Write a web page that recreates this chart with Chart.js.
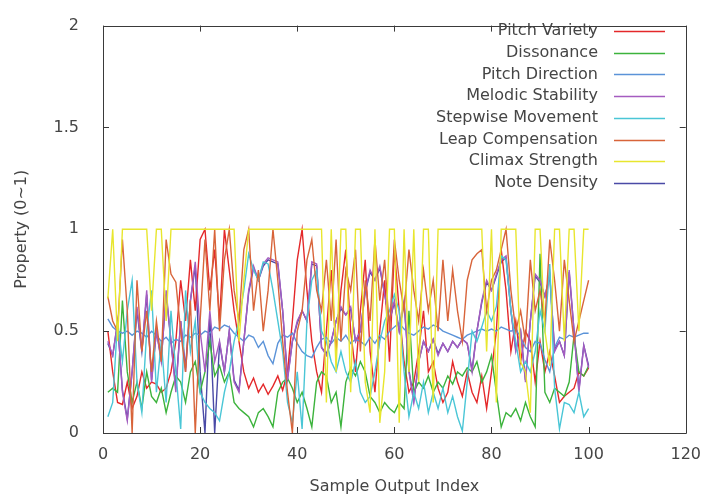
<!DOCTYPE html>
<html>
<head>
<meta charset="utf-8">
<script src="https://cdn.jsdelivr.net/npm/chart.js@4/dist/chart.umd.min.js"></script>
<style>
html,body{margin:0;padding:0;background:#fff;}
#c{display:block;}
</style>
</head>
<body>
<canvas id="c" width="705" height="501"></canvas>
<script>
const sampleIndex = [1,2,3,4,5,6,7,8,9,10,11,12,13,14,15,16,17,18,19,20,21,22,23,24,25,26,27,28,29,30,31,32,33,34,35,36,37,38,39,40,41,42,43,44,45,46,47,48,49,50,51,52,53,54,55,56,57,58,59,60,61,62,63,64,65,66,67,68,69,70,71,72,73,74,75,76,77,78,79,80,81,82,83,84,85,86,87,88,89,90,91,92,93,94,95,96,97,98,99,100];

const seriesNames = ["Pitch Variety","Dissonance","Pitch Direction","Melodic Stability","Stepwise Movement","Leap Compensation","Climax Strength","Note Density"];

const pitchVariety = [0.5,0.3,0.15,0.14,0.25,0.12,0.18,0.3,0.22,0.25,0.24,0.2,0.22,0.3,0.45,0.75,0.55,0.85,0.6,0.95,1.0,0.7,0.9,0.55,1.0,0.8,0.6,0.45,0.3,0.22,0.27,0.2,0.24,0.19,0.23,0.28,0.21,0.3,0.55,0.85,1.0,0.7,0.45,0.3,0.2,0.5,0.8,0.4,0.7,0.9,0.5,0.3,0.6,0.85,0.4,0.2,0.5,0.75,0.35,0.9,0.6,0.35,0.2,0.25,0.4,0.6,0.3,0.35,0.22,0.15,0.2,0.35,0.25,0.18,0.3,0.2,0.15,0.28,0.12,0.3,0.5,0.9,0.7,0.4,0.55,0.35,0.5,0.45,0.25,0.45,0.3,0.4,0.28,0.15,0.18,0.2,0.22,0.3,0.28,0.32];

const dissonance = [0.2,0.22,0.2,0.65,0.3,0.15,0.25,0.12,0.3,0.18,0.15,0.22,0.1,0.2,0.28,0.25,0.15,0.3,0.35,0.2,0.3,0.45,0.28,0.33,0.25,0.3,0.15,0.12,0.1,0.08,0.03,0.1,0.12,0.08,0.03,0.2,0.25,0.27,0.22,0.15,0.2,0.12,0.03,0.25,0.3,0.28,0.15,0.2,0.03,0.25,0.32,0.28,0.35,0.3,0.18,0.15,0.1,0.15,0.12,0.1,0.15,0.12,0.6,0.2,0.25,0.22,0.28,0.2,0.25,0.22,0.28,0.24,0.3,0.28,0.32,0.3,0.35,0.25,0.3,0.38,0.2,0.03,0.1,0.08,0.12,0.06,0.15,0.08,0.03,0.88,0.2,0.15,0.22,0.2,0.18,0.25,0.48,0.3,0.28,0.33];

const pitchDirection = [0.56,0.52,0.5,0.49,0.5,0.48,0.5,0.49,0.47,0.5,0.48,0.45,0.47,0.44,0.46,0.45,0.48,0.47,0.49,0.48,0.5,0.49,0.52,0.51,0.53,0.52,0.49,0.47,0.45,0.48,0.47,0.42,0.45,0.38,0.34,0.44,0.48,0.47,0.49,0.44,0.4,0.38,0.37,0.42,0.46,0.47,0.44,0.47,0.45,0.48,0.44,0.46,0.45,0.43,0.47,0.44,0.48,0.46,0.5,0.52,0.54,0.51,0.49,0.48,0.5,0.52,0.51,0.53,0.52,0.5,0.49,0.48,0.47,0.46,0.48,0.49,0.5,0.51,0.5,0.51,0.5,0.52,0.51,0.5,0.51,0.47,0.42,0.4,0.45,0.44,0.36,0.3,0.42,0.47,0.46,0.48,0.47,0.48,0.49,0.49];

const melodicStability = [0.45,0.38,0.55,0.2,0.06,0.3,0.62,0.4,0.7,0.25,0.5,0.35,0.7,0.45,0.2,0.55,0.3,0.65,0.84,0.5,0.3,0.6,0.35,0.45,0.3,0.5,0.25,0.2,0.45,0.7,0.82,0.75,0.83,0.86,0.85,0.84,0.6,0.26,0.45,0.55,0.6,0.55,0.84,0.83,0.42,0.38,0.45,0.55,0.62,0.58,0.62,0.45,0.5,0.7,0.8,0.75,0.82,0.68,0.55,0.65,0.5,0.65,0.3,0.15,0.35,0.45,0.4,0.46,0.38,0.44,0.4,0.45,0.42,0.46,0.44,0.3,0.5,0.65,0.75,0.7,0.78,0.85,0.87,0.6,0.4,0.5,0.25,0.55,0.78,0.75,0.67,0.78,0.4,0.45,0.38,0.8,0.5,0.2,0.43,0.32];

const stepwiseMovement = [0.08,0.15,0.55,0.35,0.6,0.75,0.25,0.1,0.5,0.7,0.2,0.45,0.15,0.6,0.3,0.02,0.7,0.4,0.55,0.2,0.15,0.12,0.1,0.06,0.2,0.3,0.45,0.55,0.7,0.88,0.8,0.75,0.84,0.83,0.7,0.55,0.4,0.15,0.05,0.3,0.02,0.55,0.75,0.8,0.5,0.45,0.35,0.3,0.4,0.3,0.25,0.35,0.2,0.15,0.18,0.3,0.45,0.55,0.6,0.68,0.6,0.3,0.08,0.2,0.12,0.25,0.1,0.2,0.12,0.22,0.1,0.18,0.08,0.01,0.25,0.5,0.45,0.52,0.6,0.55,0.62,0.87,0.85,0.6,0.45,0.3,0.35,0.3,0.4,0.6,0.5,0.83,0.22,0.02,0.15,0.14,0.1,0.2,0.08,0.12];

const leapCompensation = [0.67,0.55,0.5,0.95,0.6,0.0,0.75,0.4,0.6,0.3,0.55,0.35,0.95,0.78,0.74,0.5,0.3,0.65,0.0,0.55,0.95,0.6,1.0,0.5,0.85,1.0,0.7,0.55,0.9,1.0,0.6,0.8,0.5,0.7,1.0,0.75,0.45,0.2,0.0,0.5,0.6,0.85,0.95,0.7,0.6,0.85,0.55,0.95,0.45,0.8,0.7,0.9,0.4,0.75,0.55,0.95,0.65,0.85,0.5,0.95,0.75,0.6,0.9,0.7,0.55,0.8,0.6,0.75,0.5,0.85,0.55,0.8,0.6,0.45,0.75,0.85,0.88,0.9,0.6,0.75,0.8,0.9,1.0,0.7,0.5,0.6,0.45,0.85,0.6,0.7,0.55,0.95,0.75,0.5,0.85,0.65,0.45,0.55,0.65,0.75];

const climaxStrength = [0.66,1,0.45,1,1,1,1,1,1,0.6,1,1,0.55,1,1,1,1,1,1,1,1,1,1,1,1,1,1,0.45,0.75,1,1,1,1,1,1,1,1,1,1,1,1,1,1,1,1,0.15,1,0.3,1,1,0.2,1,1,0.25,0.1,1,0.05,0.3,1,1,0.05,1,0.3,1,0.25,1,1,0.15,1,1,1,1,1,1,1,1,1,1,0.4,1,0.15,1,1,1,1,0.35,0.3,0.1,1,1,0.5,0.33,1,1,0.45,1,1,0.5,1,1];

const noteDensity = [0.44,0.38,0.54,0.21,0.07,0.3,0.6,0.4,0.68,0.26,0.5,0.36,0.68,0.45,0.22,0.55,0.32,0.65,0.82,0.3,0.0,0.58,0.0,0.44,0.3,0.5,0.26,0.21,0.45,0.69,0.81,0.75,0.82,0.85,0.84,0.83,0.6,0.27,0.45,0.54,0.6,0.55,0.83,0.82,0.42,0.39,0.45,0.55,0.61,0.58,0.61,0.45,0.5,0.69,0.79,0.75,0.81,0.68,0.55,0.64,0.5,0.64,0.31,0.16,0.35,0.45,0.4,0.46,0.39,0.44,0.4,0.45,0.42,0.46,0.44,0.31,0.5,0.64,0.74,0.7,0.77,0.84,0.86,0.6,0.41,0.5,0.26,0.55,0.77,0.74,0.67,0.77,0.41,0.45,0.38,0.79,0.5,0.21,0.43,0.33];

const xTicks = [0,20,40,60,80,100,120];
const yTicks = [0,0.5,1,1.5,2];

const seriesValues = [pitchVariety,dissonance,pitchDirection,melodicStability,stepwiseMovement,leapCompensation,climaxStrength,noteDensity];
const seriesColors = ["#e4282a","#3cb33c","#5b93d8","#a55cc0","#4ac6d6","#d8643a","#e8e62e","#4a4aa6"];
const drawOrder = [7,6,5,4,3,2,1,10];

const FONT = "'DejaVu Sans', sans-serif";
const TXT = "#454545";

const frameTicks = {
  id:'frameTicks',
  afterDatasetsDraw(chart){
    const {ctx, chartArea:a, scales:{x,y}} = chart;
    ctx.save();
    ctx.strokeStyle = '#3a3a3a';
    ctx.lineWidth = 1;
    ctx.beginPath();
    ctx.rect(Math.round(a.left)+0.5, Math.round(a.top)+0.5, Math.round(a.right-a.left), Math.round(a.bottom-a.top));
    ctx.stroke();
    ctx.beginPath();
    const L = 6;
    xTicks.forEach(v=>{
      const px = Math.round(x.getPixelForValue(v))+0.5;
      ctx.moveTo(px, a.bottom); ctx.lineTo(px, a.bottom-L);
      ctx.moveTo(px, a.top); ctx.lineTo(px, a.top+L);
    });
    yTicks.forEach(v=>{
      const py = Math.round(y.getPixelForValue(v))+0.5;
      ctx.moveTo(a.left, py); ctx.lineTo(a.left+L, py);
      ctx.moveTo(a.right, py); ctx.lineTo(a.right-L, py);
    });
    ctx.stroke();
    ctx.restore();
  },
  afterDraw(chart){
    const ctx = chart.ctx;
    ctx.save();
    ctx.font = "16px " + FONT;
    ctx.fillStyle = TXT;
    ctx.textAlign = 'right';
    ctx.textBaseline = 'middle';
    chart.data.datasets.forEach((ds,i)=>{
      const yy = 31 + i*21.7;
      ctx.fillText(ds.label, 598, yy);
      ctx.strokeStyle = ds.borderColor;
      ctx.lineWidth = 1.5;
      ctx.beginPath();
      ctx.moveTo(614, Math.round(yy)+0.5);
      ctx.lineTo(665, Math.round(yy)+0.5);
      ctx.stroke();
    });
    ctx.restore();
  }
};

const datasets = seriesNames.map((name,i)=>({
  label: name,
  data: sampleIndex.map((sx,k)=>({x:sx, y:seriesValues[i][k]})),
  borderColor: seriesColors[i],
  backgroundColor: seriesColors[i],
  borderWidth: 1.4,
  pointRadius: 0,
  tension: 0,
  fill: false,
  order: drawOrder[i]
}));

new Chart(document.getElementById('c').getContext('2d'), {
  type: 'line',
  data: { datasets },
  options: {
    responsive: false,
    animation: false,
    devicePixelRatio: 1,
    layout: { padding: { left: 0, right: 16, top: 8, bottom: 0 } },
    plugins: { legend: { display: false }, tooltip: { enabled: false } },
    scales: {
      x: {
        type: 'linear', min: 0, max: 120,
        afterBuildTicks(s){ s.ticks = xTicks.map(v=>({value:v})); },
        ticks: { padding: 4, color: TXT, font: { family: FONT, size: 16 }, maxRotation: 0, autoSkip: false, callback: v => String(v) },
        grid: { display: false },
        border: { display: false },
        title: { display: true, text: 'Sample Output Index', color: TXT, font: { family: FONT, size: 16 }, padding: { top: 0, bottom: 5 } },
        afterFit(s){ s.height = 68; }
      },
      y: {
        type: 'linear', min: 0, max: 2,
        afterBuildTicks(s){ s.ticks = yTicks.map(v=>({value:v})); },
        ticks: { padding: 16, color: TXT, font: { family: FONT, size: 16 }, autoSkip: false, callback: v => String(v) },
        grid: { display: false },
        border: { display: false },
        title: { display: true, text: 'Property (0~1)', color: TXT, font: { family: FONT, size: 16 }, padding: { top: 12, bottom: 0 } },
        afterFit(s){ s.width = 103; }
      }
    }
  },
  plugins: [frameTicks]
});
</script>
</body>
</html>
